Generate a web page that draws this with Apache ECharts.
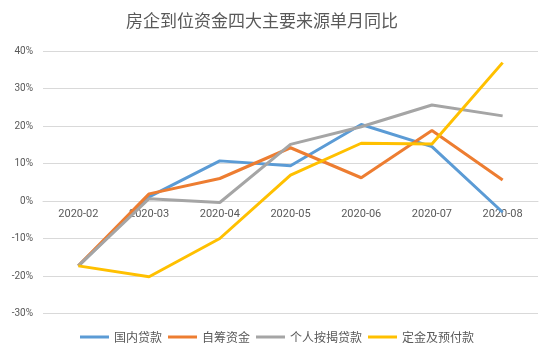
<!DOCTYPE html>
<html><head><meta charset="utf-8">
<script src="https://cdn.jsdelivr.net/npm/echarts@6/dist/echarts.min.js"></script>
<style>html,body{margin:0;padding:0;background:#fff}#c{width:554px;height:359px}</style>
</head><body><div id="c"></div>
<script>
const title = '房企到位资金四大主要来源单月同比';
const categories = ['2020-02','2020-03','2020-04','2020-05','2020-06','2020-07','2020-08'];
const seriesNames = ['国内贷款','自筹资金','个人按揭贷款','定金及预付款'];
const domesticLoans = [-17.3, 1.1, 10.7, 9.4, 20.4, 14.5, -3.0];
const selfRaised = [-17.3, 1.9, 6.0, 14.2, 6.2, 18.8, 5.6];
const mortgage = [-17.3, 0.6, -0.4, 15.1, 19.8, 25.6, 22.7];
const deposits = [-17.3, -20.2, -10.0, 6.9, 15.4, 15.2, 36.9];
const colors = ['#5B9BD5','#ED7D31','#A5A5A5','#FFC000'];
const allData = [domesticLoans, selfRaised, mortgage, deposits];

const chart = echarts.init(document.getElementById('c'));
const font = '"Noto Sans CJK SC", sans-serif';
chart.setOption({
  animation: false,
  title: { text: title, left: 121, top: 7,
    textStyle: { fontFamily: font, fontSize: 17, fontWeight: 'normal', color: '#595959' } },
  grid: { left: 43, right: 16, top: 51, bottom: 45.5 },
  legend: { bottom: 11, left: 'center', itemWidth: 29, itemHeight: 3, itemGap: 6,
    icon: 'rect',
    textStyle: { fontFamily: font, fontSize: 12, color: '#595959' },
    data: seriesNames },
  xAxis: { type: 'category', data: categories, boundaryGap: true, offset: -112.5,
    axisLine: { onZero: false, lineStyle: { color: '#d9d9d9' } },
    axisTick: { show: false },
    axisLabel: { color: '#595959', fontSize: 11, fontFamily: 'Roboto, sans-serif', margin: 8 } },
  yAxis: { type: 'value', min: -30, max: 40, interval: 10,
    axisLine: { show: false }, axisTick: { show: false },
    splitLine: { lineStyle: { color: '#d9d9d9' } },
    axisLabel: { color: '#595959', fontSize: 10, fontFamily: 'Roboto, sans-serif', margin: 10,
      formatter: v => v + '%' } },
  series: seriesNames.map((n, i) => ({
    name: n, type: 'line', data: allData[i], symbol: 'none',
    lineStyle: { width: 3, color: colors[i] }, itemStyle: { color: colors[i] }
  }))
});
</script></body></html>
